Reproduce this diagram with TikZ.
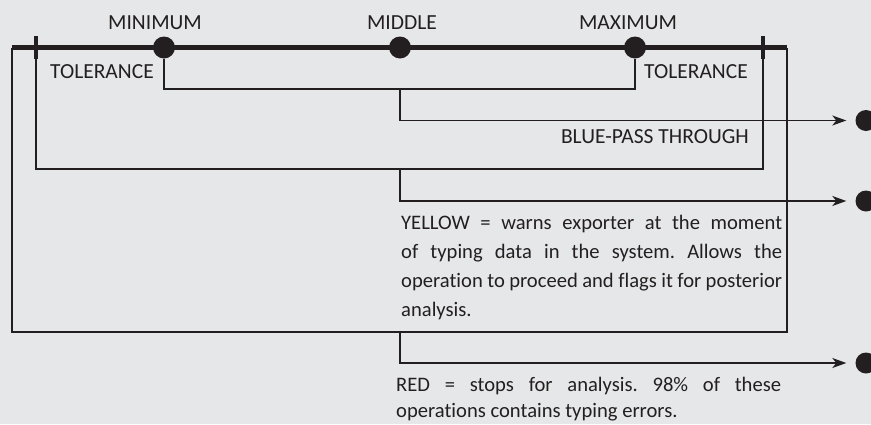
\documentclass[tikz,border=0pt]{standalone}
\usepackage{fontspec}
\setmainfont{Carlito}[Ligatures={NoCommon}]
\usetikzlibrary{positioning,arrows.meta}

\definecolor{panel}{HTML}{E6E7E8}
\definecolor{ink}{HTML}{231F20}

\tikzset{
  scaleline/.style={line width=5pt, ink},
  tickmark/.style={line width=4pt, ink},
  bigdot/.style={circle, fill=ink, inner sep=0pt, minimum size=22pt},
  enddot/.style={circle, fill=ink, inner sep=0pt, minimum size=21pt},
  wire/.style={line width=1.2pt, ink},
  flow/.style={wire, -{Stealth[length=14pt,width=10pt,inset=4pt]}, shorten >=9pt},
  lab/.style={font=\fontsize{21.5}{23}\selectfont, text=ink, inner sep=0pt},
  notetext/.style={lab, align=justify, font=\fontsize{20.6}{29.3}\selectfont\frenchspacing},
}

\begin{document}
\begin{tikzpicture}[x=1pt,y=-1pt]
  \fill[panel] (0,0) rectangle (871,424);
  \useasboundingbox (0,0) rectangle (871,424);

  % the scale
  \coordinate (scaleL) at (12,47.5);
  \coordinate (scaleR) at (787,47.5);
  \draw[scaleline] (scaleL) -- (scaleR);
  \draw[tickmark] (36,36) -- (36,59) coordinate (tolL);
  \draw[tickmark] (763,36) -- (763,59) coordinate (tolR);

  \node[bigdot] (min) at (164,47.5) {};
  \node[bigdot] (mid) at (400,47.5) {};
  \node[bigdot] (max) at (635,47.5) {};

  \node[lab, anchor=base] (minlab) at (155,29) {MINIMUM};
  \node[lab, anchor=base] (midlab) at (402,29) {MIDDLE};
  \node[lab, anchor=base] (maxlab) at (628,29) {MAXIMUM};
  \node[lab, anchor=base west] (tollabL) at (50,78) {TOLERANCE};
  \node[lab, anchor=base east] (tollabR) at (748,78) {TOLERANCE};

  % forks
  \coordinate (bluefork) at (400,89);
  \coordinate (yelfork) at (400,169);
  \coordinate (redfork) at (400,332);

  \draw[wire] (min) |- (bluefork) -| (max);
  \draw[wire] (tolL) |- (yelfork) -| (tolR);
  \draw[wire] (scaleL) |- (redfork) -| (scaleR);

  % outcomes
  \node[enddot] (blueout) at (866,120.5) {};
  \node[enddot] (yelout) at (866,201) {};
  \node[enddot] (redout) at (866,363) {};

  \draw[flow] (bluefork) |- (blueout);
  \draw[flow] (yelfork) |- (yelout);
  \draw[flow] (redfork) |- (redout);

  \node[lab, anchor=base east] (bluetxt) at (749,143) {BLUE-PASS THROUGH};
  \node[notetext, text width=381pt, anchor=base west] (yeltxt) at (401,229)
    {YELLOW = warns exporter at the moment\linebreak of typing data in the system. Allows the\linebreak operation to proceed and flags it for posterior\linebreak analysis.};
  \node[notetext, text width=385pt, anchor=base west, font=\fontsize{20.6}{26}\selectfont\frenchspacing] (redtxt) at (396,391)
    {RED = stops for analysis. 98\% of these\linebreak operations contains typing errors.};
\end{tikzpicture}
\end{document}
